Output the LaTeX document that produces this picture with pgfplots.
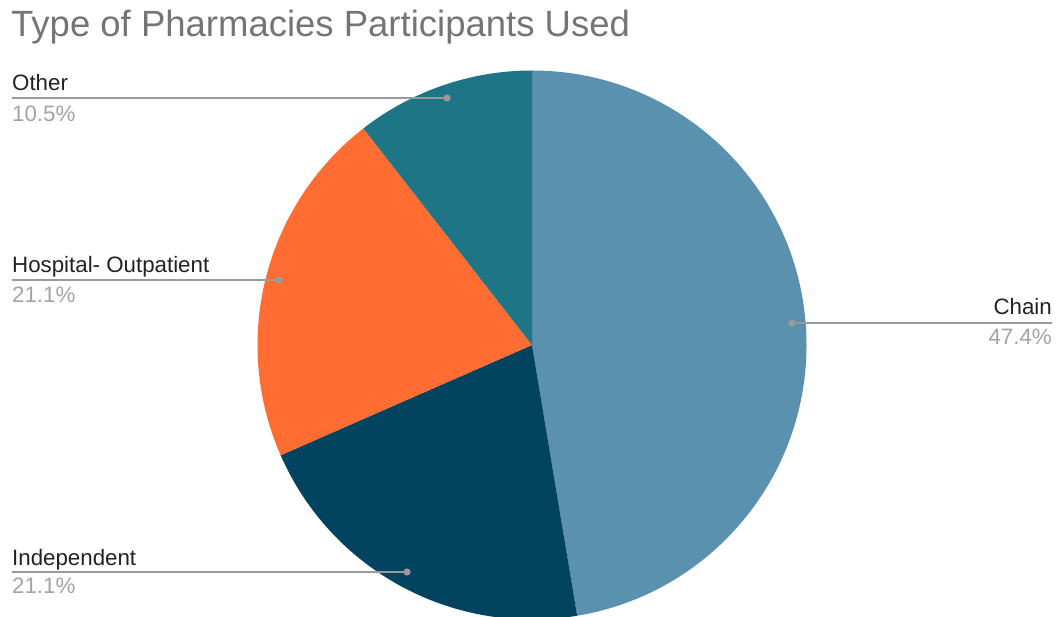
\documentclass[border=0pt]{standalone}
\usepackage{pgfplots}
\pgfplotsset{compat=1.18}
\usepackage{pgfplotstable}
\usepackage{fontspec}
\setmainfont{Liberation Sans}
\definecolor{cChain}{HTML}{5A91AE}
\definecolor{cIndep}{HTML}{02445F}
\definecolor{cHosp}{HTML}{FF6D33}
\definecolor{cOther}{HTML}{1E7586}
\definecolor{cTitle}{HTML}{757575}
\definecolor{cLab}{HTML}{222222}
\definecolor{cPct}{HTML}{A3A3A3}
\definecolor{cLine}{HTML}{9A9A9A}

\pgfplotstableread{
label value
Chain 9
Independent 4
Hospital 4
Other 2
}\piedata

\begin{document}
\begin{tikzpicture}
\pgfplotstablegetelem{0}{value}\of\piedata \edef\vA{\pgfplotsretval}
\pgfplotstablegetelem{1}{value}\of\piedata \edef\vB{\pgfplotsretval}
\pgfplotstablegetelem{2}{value}\of\piedata \edef\vC{\pgfplotsretval}
\pgfplotstablegetelem{3}{value}\of\piedata \edef\vD{\pgfplotsretval}
\pgfmathsetmacro\tot{\vA+\vB+\vC+\vD}
\pgfmathsetmacro\aA{90}
\pgfmathsetmacro\aB{\aA-360*\vA/\tot}
\pgfmathsetmacro\aC{\aB-360*\vB/\tot}
\pgfmathsetmacro\aD{\aC-360*\vC/\tot}
\pgfmathsetmacro\aE{\aD-360*\vD/\tot}
\def\R{274.5pt}
\begin{axis}[hide axis, scale only axis, width=1060pt, height=616pt,
  xmin=0, xmax=1060, ymin=0, ymax=616, clip=false]
\path (axis cs:0,0) rectangle (axis cs:1060,616);
\fill[cChain, overlay] (axis cs:532,271) -- ++(\aA:\R) arc[start angle=\aA, end angle=\aB, radius=\R] -- cycle;
\fill[cIndep, overlay] (axis cs:532,271) -- ++(\aB:\R) arc[start angle=\aB, end angle=\aC, radius=\R] -- cycle;
\fill[cHosp, overlay] (axis cs:532,271) -- ++(\aC:\R) arc[start angle=\aC, end angle=\aD, radius=\R] -- cycle;
\fill[cOther, overlay] (axis cs:532,271) -- ++(\aD:\R) arc[start angle=\aD, end angle=\aE, radius=\R] -- cycle;
% title
\node[anchor=base west, text=cTitle, font=\fontsize{36.5}{40}\selectfont, inner sep=0pt] at (axis cs:11,579) {Type of Pharmacies Participants Used};
% leader lines
\draw[cLine, line width=1.6pt] (axis cs:12,518) -- (axis cs:447,518);
\fill[cLine] (axis cs:447,518) circle[radius=3.6pt];
\draw[cLine, line width=1.6pt] (axis cs:12,336) -- (axis cs:279,336);
\fill[cLine] (axis cs:279,336) circle[radius=3.6pt];
\draw[cLine, line width=1.6pt] (axis cs:12,44) -- (axis cs:407,44);
\fill[cLine] (axis cs:407,44) circle[radius=3.6pt];
\draw[cLine, line width=1.6pt] (axis cs:792,293) -- (axis cs:1052,293);
\fill[cLine] (axis cs:792,293) circle[radius=3.6pt];
% labels
\tikzset{lab/.style={text=cLab, font=\fontsize{22.3}{26}\selectfont, inner sep=0pt},
         pct/.style={text=cPct, font=\fontsize{22.3}{26}\selectfont, inner sep=0pt}}
\node[lab, anchor=base west] at (axis cs:12,525) {Other};
\node[pct, anchor=base west] at (axis cs:12,494) {10.5\%};
\node[lab, anchor=base west] at (axis cs:12,343) {Hospital- Outpatient};
\node[pct, anchor=base west] at (axis cs:12,313) {21.1\%};
\node[lab, anchor=base west] at (axis cs:12,51) {Independent};
\node[pct, anchor=base west] at (axis cs:12,23) {21.1\%};
\node[lab, anchor=base east] at (axis cs:1052,301) {Chain};
\node[pct, anchor=base east] at (axis cs:1052,271) {47.4\%};
\end{axis}
\end{tikzpicture}
\end{document}
